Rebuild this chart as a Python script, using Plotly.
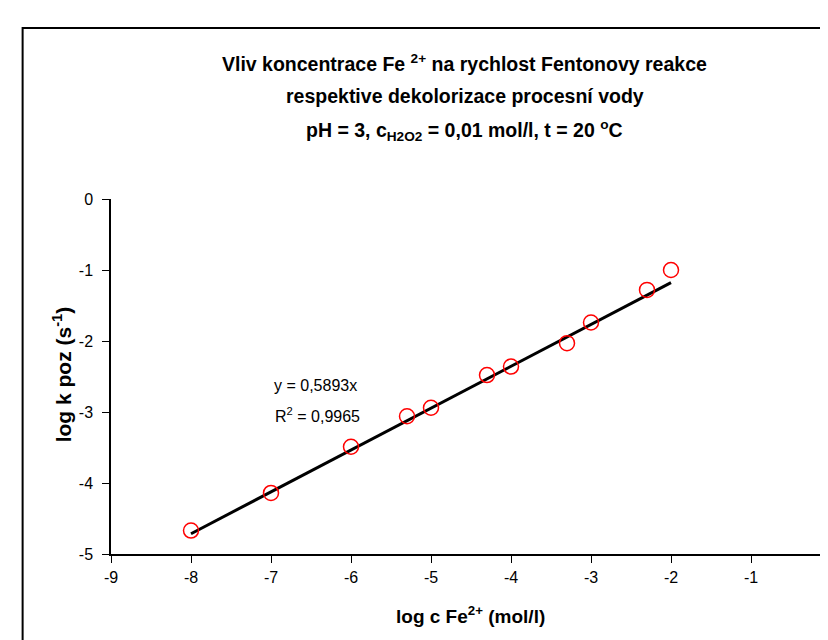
import plotly.graph_objects as go

# Data
log_c_fe = [-8, -7, -6, -5.3, -5, -4.3, -4, -3.3, -3, -2.3, -2]
log_k_poz = [-4.67, -4.14, -3.49, -3.06, -2.94, -2.48, -2.36, -2.03, -1.74, -1.28, -1.0]

# Trendline (from the displayed equation y = 0,5893x), drawn from x=-8 to x=-2
trend_slope = 0.5893
trend_x = [-8, -2]
trend_y = [trend_slope * v for v in trend_x]

x_ticks = [-9, -8, -7, -6, -5, -4, -3, -2, -1, 0]
y_ticks = [0, -1, -2, -3, -4, -5]

FONT = "Liberation Sans, Arial, sans-serif"

W, H = 828, 640
ML, MR, MT, MB = 103, 0, 191, 94
PW = W - ML - MR
PH = H - MT - MB


def px(xp):
    return (xp - ML) / PW


def py(yp):
    return (H - MB - yp) / PH


fig = go.Figure()

fig.add_trace(go.Scatter(
    x=trend_x, y=trend_y, mode="lines",
    line=dict(color="black", width=3),
    hoverinfo="skip", showlegend=False,
))

fig.add_trace(go.Scatter(
    x=log_c_fe, y=log_k_poz, mode="markers",
    marker=dict(symbol="circle-open", size=15, color="red", line=dict(color="red", width=1.5)),
    showlegend=False,
))

title_lines = [
    "Vliv koncentrace Fe <sup>2+</sup> na rychlost Fentonovy reakce",
    "respektive dekolorizace procesní vody",
    "pH = 3, c<sub>H2O2</sub> = 0,01 mol/l, t = 20 <sup>o</sup>C",
]
title_y = [55, 88, 122]

annotations = []
for t, yy in zip(title_lines, title_y):
    annotations.append(dict(
        text="<b>" + t + "</b>", xref="paper", yref="paper",
        x=px(459), y=py(yy), xanchor="center", yanchor="middle",
        showarrow=False, font=dict(family=FONT, size=19.5, color="black"),
    ))

annotations.append(dict(
    text="<b>log k poz (s<sup>-1</sup>)</b>", xref="paper", yref="paper",
    x=px(54), y=py(366), xanchor="center", yanchor="middle", textangle=-90,
    showarrow=False, font=dict(family=FONT, size=21, color="black"),
))
annotations.append(dict(
    text="<b>log c Fe<sup>2+</sup> (mol/l)</b>", xref="paper", yref="paper",
    x=px(465), y=py(607), xanchor="center", yanchor="middle",
    showarrow=False, font=dict(family=FONT, size=19, color="black"),
))
annotations.append(dict(
    text="y = 0,5893x", xref="x", yref="y",
    x=-6.44, y=-2.62, xanchor="center", yanchor="middle",
    showarrow=False, font=dict(family=FONT, size=16, color="black"),
))
annotations.append(dict(
    text="R<sup>2</sup> = 0,9965", xref="x", yref="y",
    x=-6.42, y=-3.04, xanchor="center", yanchor="middle",
    showarrow=False, font=dict(family=FONT, size=16, color="black"),
))

fig.update_layout(
    width=W, height=H,
    margin=dict(l=ML, r=MR, t=MT, b=MB),
    paper_bgcolor="white", plot_bgcolor="white",
    font=dict(family=FONT, size=16, color="black"),
    annotations=annotations,
    shapes=[dict(
        type="rect", xref="paper", yref="paper",
        x0=px(14), x1=px(840), y0=py(660), y1=py(20),
        line=dict(color="black", width=2), fillcolor="rgba(0,0,0,0)", layer="below",
    )],
)

fig.update_xaxes(
    range=[-9, 0], tickvals=x_ticks, ticktext=[str(v) for v in x_ticks],
    ticks="outside", ticklen=7, tickwidth=1.2, tickcolor="black",
    showline=True, linecolor="black", linewidth=1.5,
    showgrid=False, zeroline=False, tickfont=dict(size=16),
    ticklabelstandoff=1, ticklabeloverflow="allow",
)
fig.update_yaxes(
    range=[-5, 0], tickvals=y_ticks, ticktext=[str(v) for v in y_ticks],
    ticks="outside", ticklen=7, tickwidth=1.2, tickcolor="black",
    showline=True, linecolor="black", linewidth=1.5,
    showgrid=False, zeroline=False, tickfont=dict(size=16),
    ticklabelstandoff=6, ticklabeloverflow="allow",
)

fig.write_html("out.html")
